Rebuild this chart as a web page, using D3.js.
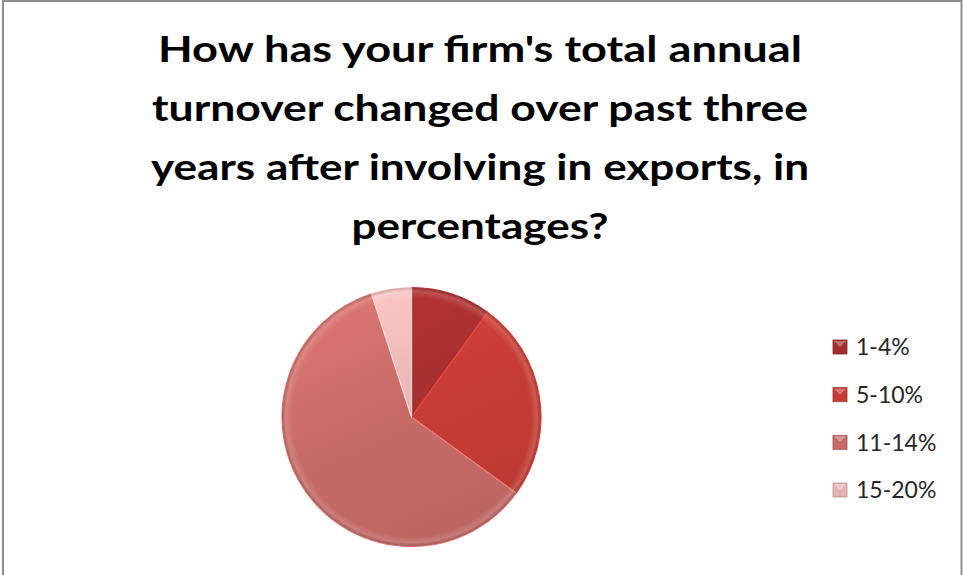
<!DOCTYPE html>
<html>
<head>
<meta charset="utf-8">
<script src="https://cdn.jsdelivr.net/npm/d3@7"></script>
<style>
  html, body { margin: 0; padding: 0; background: #fff; }
  svg { display: block; }
</style>
</head>
<body>
<svg id="chart" width="963" height="575"></svg>
<script>
// Survey answers: change in annual turnover after starting to export
const categories = ["1-4%", "5-10%", "11-14%", "15-20%"];
const shares = [10, 25, 60, 5];
const sliceColors = ["#A52F2F", "#C63C36", "#C66A67", "#E5B4B4"];
const titleLines = [
  "How has your firm's total annual",
  "turnover changed over past three",
  "years after involving in exports, in",
  "percentages?"
];
const titleWidths = [644, 656, 658, 257];

const W = 963, H = 575;
const svg = d3.select("#chart");
const defs = svg.append("defs");

// frame around the chart area
svg.append("rect")
  .attr("x", 3).attr("y", 1)
  .attr("width", 958.5).attr("height", 620)
  .attr("fill", "#fff")
  .attr("stroke", "#8f8f8f")
  .attr("stroke-width", 2);

// title
const title = svg.append("g")
  .attr("font-family", "Lato, 'Open Sans', sans-serif")
  .attr("font-weight", 700)
  .attr("font-size", 37)
  .attr("fill", "#000")
  .attr("text-anchor", "middle");
const titleBaselines = d3.scaleLinear().domain([0, 3]).range([62, 239]);
title.selectAll("text")
  .data(titleLines)
  .join("text")
  .attr("x", 480)
  .attr("y", (d, i) => titleBaselines(i))
  .attr("textLength", (d, i) => titleWidths[i])
  .attr("lengthAdjust", "spacingAndGlyphs")
  .text(d => d);

// pie
const cx = 411.5, cy = 417, R = 129.5;
const pie = d3.pie().sort(null).value(d => d.v);
const arc = d3.arc().innerRadius(0).outerRadius(R);
const data = categories.map((c, i) => ({ c, v: shares[i], col: sliceColors[i] }));
const arcs = pie(data);

// soft shading per slice: lighter toward upper-left, darker to lower-right
// (gradient coordinates are in the pie group's own space, centred at 0,0)
data.forEach((d, i) => {
  const base = d3.color(d.col);
  const g = defs.append("linearGradient")
    .attr("id", "sh" + i)
    .attr("gradientUnits", "userSpaceOnUse")
    .attr("x1", -R * 0.5).attr("y1", -R)
    .attr("x2", R * 0.4).attr("y2", R);
  g.append("stop").attr("offset", 0).attr("stop-color", base.brighter(0.3));
  g.append("stop").attr("offset", 0.5).attr("stop-color", base);
  g.append("stop").attr("offset", 1).attr("stop-color", base.darker(0.15));
});

// thin bevel at the rim
const rg = defs.append("radialGradient")
  .attr("id", "rim")
  .attr("gradientUnits", "userSpaceOnUse")
  .attr("cx", 0).attr("cy", 0).attr("r", R);
rg.append("stop").attr("offset", 0).attr("stop-color", "#fff").attr("stop-opacity", 0);
rg.append("stop").attr("offset", 0.92).attr("stop-color", "#fff").attr("stop-opacity", 0);
rg.append("stop").attr("offset", 0.97).attr("stop-color", "#fff").attr("stop-opacity", 0.15);
rg.append("stop").attr("offset", 1).attr("stop-color", "#000").attr("stop-opacity", 0.2);

const pg = svg.append("g").attr("transform", `translate(${cx},${cy})`);
pg.selectAll("path.slice")
  .data(arcs)
  .join("path")
  .attr("class", "slice")
  .attr("d", arc)
  .attr("fill", (d, i) => `url(#sh${i})`)
  .attr("stroke", d => d3.color(d.data.col).brighter(0.5))
  .attr("stroke-width", 1.2)
  .attr("stroke-linejoin", "round");
pg.selectAll("path.rim")
  .data(arcs)
  .join("path")
  .attr("class", "rim")
  .attr("d", arc)
  .attr("fill", "url(#rim)")
  .attr("pointer-events", "none");

// legend
const legY = d3.scaleLinear().domain([0, 3]).range([347, 490]);
const leg = svg.append("g");
const items = leg.selectAll("g")
  .data(data)
  .join("g")
  .attr("transform", (d, i) => `translate(833,${legY(i)})`);
items.append("rect")
  .attr("x", 0).attr("y", -7)
  .attr("width", 14).attr("height", 14)
  .attr("fill", d => d.col)
  .attr("stroke", d => d3.color(d.col).darker(0.6))
  .attr("stroke-width", 0.8);
items.append("path")
  .attr("d", "M1,-6 L13,-6 L7,0 Z")
  .attr("fill", "#fff")
  .attr("opacity", 0.3);
items.append("text")
  .attr("x", 23).attr("y", 0)
  .attr("dy", "0.36em")
  .attr("font-family", "Lato, 'Open Sans', sans-serif")
  .attr("font-size", 23)
  .attr("fill", "#262626")
  .text(d => d.c);
</script>
</body>
</html>
